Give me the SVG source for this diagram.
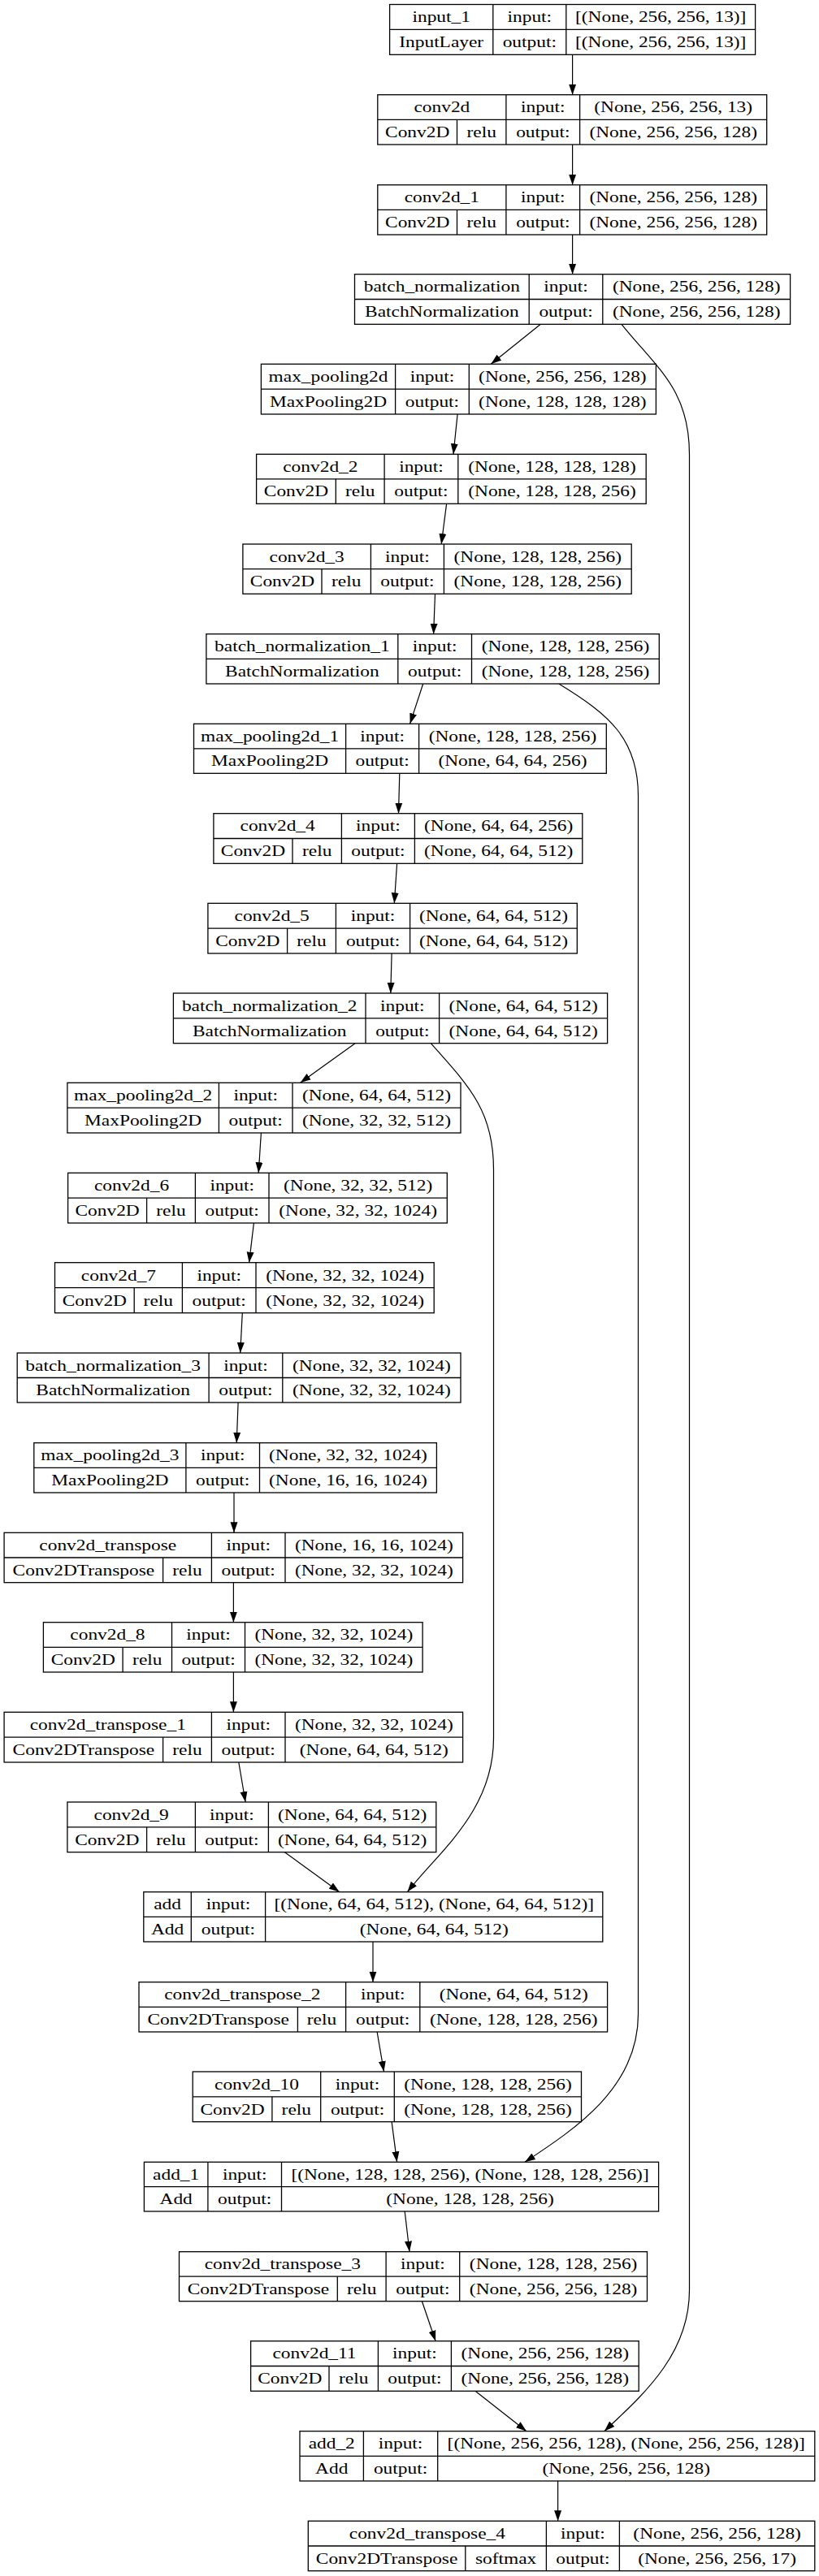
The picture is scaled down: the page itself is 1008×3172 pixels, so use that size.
<svg xmlns="http://www.w3.org/2000/svg" width="1008" height="3172" viewBox="0 0 1008 3172">
<style>
.bx{fill:#fff;stroke:#000;stroke-width:1.3}
.ln{stroke:#000;stroke-width:1.3}
.t{font-family:"Liberation Serif","Times New Roman",serif;font-size:18px;text-anchor:middle;fill:#000}
.e{fill:none;stroke:#000;stroke-width:1.2}
</style>
<defs>
<marker id="ah" markerUnits="userSpaceOnUse" markerWidth="13" markerHeight="10" refX="13" refY="5" orient="auto">
<path d="M0,0.5 L13,5 L0,9.5 z" fill="#000"/>
</marker>
</defs>
<rect width="1008" height="3172" fill="#fff"/>
<g id="connectors">
<path class="e" marker-end="url(#ah)" d="M704.6,67.3 L704.6,116.7"/>
<path class="e" marker-end="url(#ah)" d="M704.6,178 L704.6,227.7"/>
<path class="e" marker-end="url(#ah)" d="M704.6,289 L704.6,337.7"/>
<path class="e" marker-end="url(#ah)" d="M665.3,399.3 L604.3,448.3"/>
<path class="e" marker-end="url(#ah)" d="M563.1,510 L558,559.3"/>
<path class="e" marker-end="url(#ah)" d="M549.6,620.3 L543.2,670"/>
<path class="e" marker-end="url(#ah)" d="M535.5,731.3 L533.6,780.7"/>
<path class="e" marker-end="url(#ah)" d="M520.7,842 L504.6,891.3"/>
<path class="e" marker-end="url(#ah)" d="M491.8,952.3 L490.5,1001.7"/>
<path class="e" marker-end="url(#ah)" d="M488.6,1063.3 L485.3,1112.3"/>
<path class="e" marker-end="url(#ah)" d="M482.1,1174 L480.8,1223"/>
<path class="e" marker-end="url(#ah)" d="M437.1,1284.7 L369.6,1333.3"/>
<path class="e" marker-end="url(#ah)" d="M321.4,1395 L318.2,1444.3"/>
<path class="e" marker-end="url(#ah)" d="M312.4,1506 L306.6,1554.7"/>
<path class="e" marker-end="url(#ah)" d="M298.3,1616.7 L295.7,1666"/>
<path class="e" marker-end="url(#ah)" d="M293.1,1727 L291.2,1776.7"/>
<path class="e" marker-end="url(#ah)" d="M288,1838 L288,1887.3"/>
<path class="e" marker-end="url(#ah)" d="M287.4,1948.7 L287.4,1997.7"/>
<path class="e" marker-end="url(#ah)" d="M287.4,2059 L287.4,2108.3"/>
<path class="e" marker-end="url(#ah)" d="M293.8,2170 L302.1,2219"/>
<path class="e" marker-end="url(#ah)" d="M350.4,2280.7 L417.8,2329.7"/>
<path class="e" marker-end="url(#ah)" d="M459,2391 L459,2440.7"/>
<path class="e" marker-end="url(#ah)" d="M464.1,2502 L472.5,2551"/>
<path class="e" marker-end="url(#ah)" d="M482.1,2612.7 L488.6,2662.3"/>
<path class="e" marker-end="url(#ah)" d="M498.2,2723 L504,2772.7"/>
<path class="e" marker-end="url(#ah)" d="M519.4,2833.7 L536.1,2882.7"/>
<path class="e" marker-end="url(#ah)" d="M585,2944.3 L648,2993.7"/>
<path class="e" marker-end="url(#ah)" d="M686.6,3055 L686.6,3104.3"/>
<path class="e" marker-end="url(#ah)" d="M765,399.3 C810,455 848.5,480 848.5,560 L848.5,2820 C848.5,2900 790,2950 743.8,2993.7"/>
<path class="e" marker-end="url(#ah)" d="M687.8,842 C750,880 785.5,910 785.5,980 L785.5,2480 C785.5,2570 710,2620 646,2662.3"/>
<path class="e" marker-end="url(#ah)" d="M530.3,1284.7 C580,1340 607.5,1370 607.5,1440 L607.5,2140 C607.5,2230 540,2280 501.4,2329.7"/>
</g>

<g id="input_1">
<rect class="bx" x="479.6" y="5.5" width="450" height="61.8"/>
<line class="ln" x1="479.6" y1="36.4" x2="929.6" y2="36.4"/>
<line class="ln" x1="606.8" y1="5.5" x2="606.8" y2="67.3"/>
<line class="ln" x1="696.8" y1="5.5" x2="696.8" y2="67.3"/>
<text class="t" transform="translate(543.2,27.25) scale(1.3,1)">input_1</text>
<text class="t" transform="translate(543.2,58.15) scale(1.3,1)">InputLayer</text>
<text class="t" transform="translate(651.8,27.25) scale(1.3,1)">input:</text>
<text class="t" transform="translate(651.8,58.15) scale(1.3,1)">output:</text>
<text class="t" transform="translate(813.2,27.25) scale(1.3,1)">[(None, 256, 256, 13)]</text>
<text class="t" transform="translate(813.2,58.15) scale(1.3,1)">[(None, 256, 256, 13)]</text>
</g>

<g id="conv2d">
<rect class="bx" x="464.8" y="116.7" width="478.9" height="61.3"/>
<line class="ln" x1="464.8" y1="147.35" x2="943.7" y2="147.35"/>
<line class="ln" x1="622.9" y1="116.7" x2="622.9" y2="178"/>
<line class="ln" x1="713.6" y1="116.7" x2="713.6" y2="178"/>
<line class="ln" x1="562.5" y1="147.35" x2="562.5" y2="178"/>
<text class="t" transform="translate(543.85,138.3) scale(1.3,1)">conv2d</text>
<text class="t" transform="translate(513.65,169) scale(1.3,1)">Conv2D</text>
<text class="t" transform="translate(592.7,169) scale(1.3,1)">relu</text>
<text class="t" transform="translate(668.25,138.3) scale(1.3,1)">input:</text>
<text class="t" transform="translate(668.25,169) scale(1.3,1)">output:</text>
<text class="t" transform="translate(828.65,138.3) scale(1.3,1)">(None, 256, 256, 13)</text>
<text class="t" transform="translate(828.65,169) scale(1.3,1)">(None, 256, 256, 128)</text>
</g>

<g id="conv2d_1">
<rect class="bx" x="464.8" y="227.7" width="478.9" height="61.3"/>
<line class="ln" x1="464.8" y1="258.35" x2="943.7" y2="258.35"/>
<line class="ln" x1="622.9" y1="227.7" x2="622.9" y2="289"/>
<line class="ln" x1="713.6" y1="227.7" x2="713.6" y2="289"/>
<line class="ln" x1="562.5" y1="258.35" x2="562.5" y2="289"/>
<text class="t" transform="translate(543.85,249.3) scale(1.3,1)">conv2d_1</text>
<text class="t" transform="translate(513.65,280) scale(1.3,1)">Conv2D</text>
<text class="t" transform="translate(592.7,280) scale(1.3,1)">relu</text>
<text class="t" transform="translate(668.25,249.3) scale(1.3,1)">input:</text>
<text class="t" transform="translate(668.25,280) scale(1.3,1)">output:</text>
<text class="t" transform="translate(828.65,249.3) scale(1.3,1)">(None, 256, 256, 128)</text>
<text class="t" transform="translate(828.65,280) scale(1.3,1)">(None, 256, 256, 128)</text>
</g>

<g id="batch_normalization">
<rect class="bx" x="436.5" y="337.7" width="536.1" height="61.6"/>
<line class="ln" x1="436.5" y1="368.5" x2="972.6" y2="368.5"/>
<line class="ln" x1="651.2" y1="337.7" x2="651.2" y2="399.3"/>
<line class="ln" x1="741.8" y1="337.7" x2="741.8" y2="399.3"/>
<text class="t" transform="translate(543.85,359.4) scale(1.3,1)">batch_normalization</text>
<text class="t" transform="translate(543.85,390.2) scale(1.3,1)">BatchNormalization</text>
<text class="t" transform="translate(696.5,359.4) scale(1.3,1)">input:</text>
<text class="t" transform="translate(696.5,390.2) scale(1.3,1)">output:</text>
<text class="t" transform="translate(857.2,359.4) scale(1.3,1)">(None, 256, 256, 128)</text>
<text class="t" transform="translate(857.2,390.2) scale(1.3,1)">(None, 256, 256, 128)</text>
</g>

<g id="max_pooling2d">
<rect class="bx" x="321.4" y="448.3" width="486" height="61.7"/>
<line class="ln" x1="321.4" y1="479.15" x2="807.4" y2="479.15"/>
<line class="ln" x1="486.6" y1="448.3" x2="486.6" y2="510"/>
<line class="ln" x1="577.3" y1="448.3" x2="577.3" y2="510"/>
<text class="t" transform="translate(404,470) scale(1.3,1)">max_pooling2d</text>
<text class="t" transform="translate(404,500.9) scale(1.3,1)">MaxPooling2D</text>
<text class="t" transform="translate(531.95,470) scale(1.3,1)">input:</text>
<text class="t" transform="translate(531.95,500.9) scale(1.3,1)">output:</text>
<text class="t" transform="translate(692.35,470) scale(1.3,1)">(None, 256, 256, 128)</text>
<text class="t" transform="translate(692.35,500.9) scale(1.3,1)">(None, 128, 128, 128)</text>
</g>

<g id="conv2d_2">
<rect class="bx" x="315.6" y="559.3" width="479.6" height="61"/>
<line class="ln" x1="315.6" y1="589.8" x2="795.2" y2="589.8"/>
<line class="ln" x1="473.1" y1="559.3" x2="473.1" y2="620.3"/>
<line class="ln" x1="563.8" y1="559.3" x2="563.8" y2="620.3"/>
<line class="ln" x1="413.3" y1="589.8" x2="413.3" y2="620.3"/>
<text class="t" transform="translate(394.35,580.85) scale(1.3,1)">conv2d_2</text>
<text class="t" transform="translate(364.45,611.35) scale(1.3,1)">Conv2D</text>
<text class="t" transform="translate(443.2,611.35) scale(1.3,1)">relu</text>
<text class="t" transform="translate(518.45,580.85) scale(1.3,1)">input:</text>
<text class="t" transform="translate(518.45,611.35) scale(1.3,1)">output:</text>
<text class="t" transform="translate(679.5,580.85) scale(1.3,1)">(None, 128, 128, 128)</text>
<text class="t" transform="translate(679.5,611.35) scale(1.3,1)">(None, 128, 128, 256)</text>
</g>

<g id="conv2d_3">
<rect class="bx" x="298.9" y="670" width="478.3" height="61.3"/>
<line class="ln" x1="298.9" y1="700.65" x2="777.2" y2="700.65"/>
<line class="ln" x1="456.4" y1="670" x2="456.4" y2="731.3"/>
<line class="ln" x1="546.4" y1="670" x2="546.4" y2="731.3"/>
<line class="ln" x1="396" y1="700.65" x2="396" y2="731.3"/>
<text class="t" transform="translate(377.65,691.6) scale(1.3,1)">conv2d_3</text>
<text class="t" transform="translate(347.45,722.3) scale(1.3,1)">Conv2D</text>
<text class="t" transform="translate(426.2,722.3) scale(1.3,1)">relu</text>
<text class="t" transform="translate(501.4,691.6) scale(1.3,1)">input:</text>
<text class="t" transform="translate(501.4,722.3) scale(1.3,1)">output:</text>
<text class="t" transform="translate(661.8,691.6) scale(1.3,1)">(None, 128, 128, 256)</text>
<text class="t" transform="translate(661.8,722.3) scale(1.3,1)">(None, 128, 128, 256)</text>
</g>

<g id="batch_normalization_1">
<rect class="bx" x="253.9" y="780.7" width="557.4" height="61.3"/>
<line class="ln" x1="253.9" y1="811.35" x2="811.3" y2="811.35"/>
<line class="ln" x1="489.8" y1="780.7" x2="489.8" y2="842"/>
<line class="ln" x1="580.5" y1="780.7" x2="580.5" y2="842"/>
<text class="t" transform="translate(371.85,802.3) scale(1.3,1)">batch_normalization_1</text>
<text class="t" transform="translate(371.85,833) scale(1.3,1)">BatchNormalization</text>
<text class="t" transform="translate(535.15,802.3) scale(1.3,1)">input:</text>
<text class="t" transform="translate(535.15,833) scale(1.3,1)">output:</text>
<text class="t" transform="translate(695.9,802.3) scale(1.3,1)">(None, 128, 128, 256)</text>
<text class="t" transform="translate(695.9,833) scale(1.3,1)">(None, 128, 128, 256)</text>
</g>

<g id="max_pooling2d_1">
<rect class="bx" x="238.5" y="891.3" width="507.8" height="61"/>
<line class="ln" x1="238.5" y1="921.8" x2="746.3" y2="921.8"/>
<line class="ln" x1="425.6" y1="891.3" x2="425.6" y2="952.3"/>
<line class="ln" x1="515.6" y1="891.3" x2="515.6" y2="952.3"/>
<text class="t" transform="translate(332.05,912.85) scale(1.3,1)">max_pooling2d_1</text>
<text class="t" transform="translate(332.05,943.35) scale(1.3,1)">MaxPooling2D</text>
<text class="t" transform="translate(470.6,912.85) scale(1.3,1)">input:</text>
<text class="t" transform="translate(470.6,943.35) scale(1.3,1)">output:</text>
<text class="t" transform="translate(630.95,912.85) scale(1.3,1)">(None, 128, 128, 256)</text>
<text class="t" transform="translate(630.95,943.35) scale(1.3,1)">(None, 64, 64, 256)</text>
</g>

<g id="conv2d_4">
<rect class="bx" x="262.9" y="1001.7" width="453.9" height="61.6"/>
<line class="ln" x1="262.9" y1="1032.5" x2="716.8" y2="1032.5"/>
<line class="ln" x1="420.4" y1="1001.7" x2="420.4" y2="1063.3"/>
<line class="ln" x1="510.4" y1="1001.7" x2="510.4" y2="1063.3"/>
<line class="ln" x1="360" y1="1032.5" x2="360" y2="1063.3"/>
<text class="t" transform="translate(341.65,1023.4) scale(1.3,1)">conv2d_4</text>
<text class="t" transform="translate(311.45,1054.2) scale(1.3,1)">Conv2D</text>
<text class="t" transform="translate(390.2,1054.2) scale(1.3,1)">relu</text>
<text class="t" transform="translate(465.4,1023.4) scale(1.3,1)">input:</text>
<text class="t" transform="translate(465.4,1054.2) scale(1.3,1)">output:</text>
<text class="t" transform="translate(613.6,1023.4) scale(1.3,1)">(None, 64, 64, 256)</text>
<text class="t" transform="translate(613.6,1054.2) scale(1.3,1)">(None, 64, 64, 512)</text>
</g>

<g id="conv2d_5">
<rect class="bx" x="255.9" y="1112.3" width="454.4" height="61.7"/>
<line class="ln" x1="255.9" y1="1143.15" x2="710.3" y2="1143.15"/>
<line class="ln" x1="413.4" y1="1112.3" x2="413.4" y2="1174"/>
<line class="ln" x1="504.6" y1="1112.3" x2="504.6" y2="1174"/>
<line class="ln" x1="353.6" y1="1143.15" x2="353.6" y2="1174"/>
<text class="t" transform="translate(334.65,1134) scale(1.3,1)">conv2d_5</text>
<text class="t" transform="translate(304.75,1164.9) scale(1.3,1)">Conv2D</text>
<text class="t" transform="translate(383.5,1164.9) scale(1.3,1)">relu</text>
<text class="t" transform="translate(459,1134) scale(1.3,1)">input:</text>
<text class="t" transform="translate(459,1164.9) scale(1.3,1)">output:</text>
<text class="t" transform="translate(607.45,1134) scale(1.3,1)">(None, 64, 64, 512)</text>
<text class="t" transform="translate(607.45,1164.9) scale(1.3,1)">(None, 64, 64, 512)</text>
</g>

<g id="batch_normalization_2">
<rect class="bx" x="213.4" y="1223" width="534.2" height="61.7"/>
<line class="ln" x1="213.4" y1="1253.85" x2="747.6" y2="1253.85"/>
<line class="ln" x1="450" y1="1223" x2="450" y2="1284.7"/>
<line class="ln" x1="540.6" y1="1223" x2="540.6" y2="1284.7"/>
<text class="t" transform="translate(331.7,1244.7) scale(1.3,1)">batch_normalization_2</text>
<text class="t" transform="translate(331.7,1275.6) scale(1.3,1)">BatchNormalization</text>
<text class="t" transform="translate(495.3,1244.7) scale(1.3,1)">input:</text>
<text class="t" transform="translate(495.3,1275.6) scale(1.3,1)">output:</text>
<text class="t" transform="translate(644.1,1244.7) scale(1.3,1)">(None, 64, 64, 512)</text>
<text class="t" transform="translate(644.1,1275.6) scale(1.3,1)">(None, 64, 64, 512)</text>
</g>

<g id="max_pooling2d_2">
<rect class="bx" x="82.9" y="1333.3" width="484.1" height="61.7"/>
<line class="ln" x1="82.9" y1="1364.15" x2="567" y2="1364.15"/>
<line class="ln" x1="269.4" y1="1333.3" x2="269.4" y2="1395"/>
<line class="ln" x1="360" y1="1333.3" x2="360" y2="1395"/>
<text class="t" transform="translate(176.15,1355) scale(1.3,1)">max_pooling2d_2</text>
<text class="t" transform="translate(176.15,1385.9) scale(1.3,1)">MaxPooling2D</text>
<text class="t" transform="translate(314.7,1355) scale(1.3,1)">input:</text>
<text class="t" transform="translate(314.7,1385.9) scale(1.3,1)">output:</text>
<text class="t" transform="translate(463.5,1355) scale(1.3,1)">(None, 64, 64, 512)</text>
<text class="t" transform="translate(463.5,1385.9) scale(1.3,1)">(None, 32, 32, 512)</text>
</g>

<g id="conv2d_6">
<rect class="bx" x="83.6" y="1444.3" width="466.7" height="61.7"/>
<line class="ln" x1="83.6" y1="1475.15" x2="550.3" y2="1475.15"/>
<line class="ln" x1="240.4" y1="1444.3" x2="240.4" y2="1506"/>
<line class="ln" x1="331" y1="1444.3" x2="331" y2="1506"/>
<line class="ln" x1="180.6" y1="1475.15" x2="180.6" y2="1506"/>
<text class="t" transform="translate(162,1466) scale(1.3,1)">conv2d_6</text>
<text class="t" transform="translate(132.1,1496.9) scale(1.3,1)">Conv2D</text>
<text class="t" transform="translate(210.5,1496.9) scale(1.3,1)">relu</text>
<text class="t" transform="translate(285.7,1466) scale(1.3,1)">input:</text>
<text class="t" transform="translate(285.7,1496.9) scale(1.3,1)">output:</text>
<text class="t" transform="translate(440.65,1466) scale(1.3,1)">(None, 32, 32, 512)</text>
<text class="t" transform="translate(440.65,1496.9) scale(1.3,1)">(None, 32, 32, 1024)</text>
</g>

<g id="conv2d_7">
<rect class="bx" x="67.5" y="1554.7" width="466.7" height="62"/>
<line class="ln" x1="67.5" y1="1585.7" x2="534.2" y2="1585.7"/>
<line class="ln" x1="224.4" y1="1554.7" x2="224.4" y2="1616.7"/>
<line class="ln" x1="315" y1="1554.7" x2="315" y2="1616.7"/>
<line class="ln" x1="165.2" y1="1585.7" x2="165.2" y2="1616.7"/>
<text class="t" transform="translate(145.95,1576.5) scale(1.3,1)">conv2d_7</text>
<text class="t" transform="translate(116.35,1607.5) scale(1.3,1)">Conv2D</text>
<text class="t" transform="translate(194.8,1607.5) scale(1.3,1)">relu</text>
<text class="t" transform="translate(269.7,1576.5) scale(1.3,1)">input:</text>
<text class="t" transform="translate(269.7,1607.5) scale(1.3,1)">output:</text>
<text class="t" transform="translate(424.6,1576.5) scale(1.3,1)">(None, 32, 32, 1024)</text>
<text class="t" transform="translate(424.6,1607.5) scale(1.3,1)">(None, 32, 32, 1024)</text>
</g>

<g id="batch_normalization_3">
<rect class="bx" x="21.2" y="1666" width="545.8" height="61"/>
<line class="ln" x1="21.2" y1="1696.5" x2="567" y2="1696.5"/>
<line class="ln" x1="257.1" y1="1666" x2="257.1" y2="1727"/>
<line class="ln" x1="347.8" y1="1666" x2="347.8" y2="1727"/>
<text class="t" transform="translate(139.15,1687.55) scale(1.3,1)">batch_normalization_3</text>
<text class="t" transform="translate(139.15,1718.05) scale(1.3,1)">BatchNormalization</text>
<text class="t" transform="translate(302.45,1687.55) scale(1.3,1)">input:</text>
<text class="t" transform="translate(302.45,1718.05) scale(1.3,1)">output:</text>
<text class="t" transform="translate(457.4,1687.55) scale(1.3,1)">(None, 32, 32, 1024)</text>
<text class="t" transform="translate(457.4,1718.05) scale(1.3,1)">(None, 32, 32, 1024)</text>
</g>

<g id="max_pooling2d_3">
<rect class="bx" x="41.8" y="1776.7" width="495.6" height="61.3"/>
<line class="ln" x1="41.8" y1="1807.35" x2="537.4" y2="1807.35"/>
<line class="ln" x1="228.9" y1="1776.7" x2="228.9" y2="1838"/>
<line class="ln" x1="319.5" y1="1776.7" x2="319.5" y2="1838"/>
<text class="t" transform="translate(135.35,1798.3) scale(1.3,1)">max_pooling2d_3</text>
<text class="t" transform="translate(135.35,1829) scale(1.3,1)">MaxPooling2D</text>
<text class="t" transform="translate(274.2,1798.3) scale(1.3,1)">input:</text>
<text class="t" transform="translate(274.2,1829) scale(1.3,1)">output:</text>
<text class="t" transform="translate(428.45,1798.3) scale(1.3,1)">(None, 32, 32, 1024)</text>
<text class="t" transform="translate(428.45,1829) scale(1.3,1)">(None, 16, 16, 1024)</text>
</g>

<g id="conv2d_transpose">
<rect class="bx" x="5.1" y="1887.3" width="564.5" height="61.4"/>
<line class="ln" x1="5.1" y1="1918" x2="569.6" y2="1918"/>
<line class="ln" x1="260.4" y1="1887.3" x2="260.4" y2="1948.7"/>
<line class="ln" x1="351" y1="1887.3" x2="351" y2="1948.7"/>
<line class="ln" x1="200.6" y1="1918" x2="200.6" y2="1948.7"/>
<text class="t" transform="translate(132.75,1908.95) scale(1.3,1)">conv2d_transpose</text>
<text class="t" transform="translate(102.85,1939.65) scale(1.3,1)">Conv2DTranspose</text>
<text class="t" transform="translate(230.5,1939.65) scale(1.3,1)">relu</text>
<text class="t" transform="translate(305.7,1908.95) scale(1.3,1)">input:</text>
<text class="t" transform="translate(305.7,1939.65) scale(1.3,1)">output:</text>
<text class="t" transform="translate(460.3,1908.95) scale(1.3,1)">(None, 16, 16, 1024)</text>
<text class="t" transform="translate(460.3,1939.65) scale(1.3,1)">(None, 32, 32, 1024)</text>
</g>

<g id="conv2d_8">
<rect class="bx" x="53.4" y="1997.7" width="466.7" height="61.3"/>
<line class="ln" x1="53.4" y1="2028.35" x2="520.1" y2="2028.35"/>
<line class="ln" x1="211.5" y1="1997.7" x2="211.5" y2="2059"/>
<line class="ln" x1="301.5" y1="1997.7" x2="301.5" y2="2059"/>
<line class="ln" x1="151.1" y1="2028.35" x2="151.1" y2="2059"/>
<text class="t" transform="translate(132.45,2019.3) scale(1.3,1)">conv2d_8</text>
<text class="t" transform="translate(102.25,2050) scale(1.3,1)">Conv2D</text>
<text class="t" transform="translate(181.3,2050) scale(1.3,1)">relu</text>
<text class="t" transform="translate(256.5,2019.3) scale(1.3,1)">input:</text>
<text class="t" transform="translate(256.5,2050) scale(1.3,1)">output:</text>
<text class="t" transform="translate(410.8,2019.3) scale(1.3,1)">(None, 32, 32, 1024)</text>
<text class="t" transform="translate(410.8,2050) scale(1.3,1)">(None, 32, 32, 1024)</text>
</g>

<g id="conv2d_transpose_1">
<rect class="bx" x="5.1" y="2108.3" width="564.5" height="61.7"/>
<line class="ln" x1="5.1" y1="2139.15" x2="569.6" y2="2139.15"/>
<line class="ln" x1="260.4" y1="2108.3" x2="260.4" y2="2170"/>
<line class="ln" x1="351" y1="2108.3" x2="351" y2="2170"/>
<line class="ln" x1="200.6" y1="2139.15" x2="200.6" y2="2170"/>
<text class="t" transform="translate(132.75,2130) scale(1.3,1)">conv2d_transpose_1</text>
<text class="t" transform="translate(102.85,2160.9) scale(1.3,1)">Conv2DTranspose</text>
<text class="t" transform="translate(230.5,2160.9) scale(1.3,1)">relu</text>
<text class="t" transform="translate(305.7,2130) scale(1.3,1)">input:</text>
<text class="t" transform="translate(305.7,2160.9) scale(1.3,1)">output:</text>
<text class="t" transform="translate(460.3,2130) scale(1.3,1)">(None, 32, 32, 1024)</text>
<text class="t" transform="translate(460.3,2160.9) scale(1.3,1)">(None, 64, 64, 512)</text>
</g>

<g id="conv2d_9">
<rect class="bx" x="82.9" y="2219" width="453.9" height="61.7"/>
<line class="ln" x1="82.9" y1="2249.85" x2="536.8" y2="2249.85"/>
<line class="ln" x1="240.4" y1="2219" x2="240.4" y2="2280.7"/>
<line class="ln" x1="330.4" y1="2219" x2="330.4" y2="2280.7"/>
<line class="ln" x1="180.6" y1="2249.85" x2="180.6" y2="2280.7"/>
<text class="t" transform="translate(161.65,2240.7) scale(1.3,1)">conv2d_9</text>
<text class="t" transform="translate(131.75,2271.6) scale(1.3,1)">Conv2D</text>
<text class="t" transform="translate(210.5,2271.6) scale(1.3,1)">relu</text>
<text class="t" transform="translate(285.4,2240.7) scale(1.3,1)">input:</text>
<text class="t" transform="translate(285.4,2271.6) scale(1.3,1)">output:</text>
<text class="t" transform="translate(433.6,2240.7) scale(1.3,1)">(None, 64, 64, 512)</text>
<text class="t" transform="translate(433.6,2271.6) scale(1.3,1)">(None, 64, 64, 512)</text>
</g>

<g id="add">
<rect class="bx" x="176.8" y="2329.7" width="565" height="61.3"/>
<line class="ln" x1="176.8" y1="2360.35" x2="741.8" y2="2360.35"/>
<line class="ln" x1="235.3" y1="2329.7" x2="235.3" y2="2391"/>
<line class="ln" x1="326.6" y1="2329.7" x2="326.6" y2="2391"/>
<text class="t" transform="translate(206.05,2351.3) scale(1.3,1)">add</text>
<text class="t" transform="translate(206.05,2382) scale(1.3,1)">Add</text>
<text class="t" transform="translate(280.95,2351.3) scale(1.3,1)">input:</text>
<text class="t" transform="translate(280.95,2382) scale(1.3,1)">output:</text>
<text class="t" transform="translate(534.2,2351.3) scale(1.3,1)">[(None, 64, 64, 512), (None, 64, 64, 512)]</text>
<text class="t" transform="translate(534.2,2382) scale(1.3,1)">(None, 64, 64, 512)</text>
</g>

<g id="conv2d_transpose_2">
<rect class="bx" x="171" y="2440.7" width="576.6" height="61.3"/>
<line class="ln" x1="171" y1="2471.35" x2="747.6" y2="2471.35"/>
<line class="ln" x1="425.6" y1="2440.7" x2="425.6" y2="2502"/>
<line class="ln" x1="516.8" y1="2440.7" x2="516.8" y2="2502"/>
<line class="ln" x1="366.4" y1="2471.35" x2="366.4" y2="2502"/>
<text class="t" transform="translate(298.3,2462.3) scale(1.3,1)">conv2d_transpose_2</text>
<text class="t" transform="translate(268.7,2493) scale(1.3,1)">Conv2DTranspose</text>
<text class="t" transform="translate(396,2493) scale(1.3,1)">relu</text>
<text class="t" transform="translate(471.2,2462.3) scale(1.3,1)">input:</text>
<text class="t" transform="translate(471.2,2493) scale(1.3,1)">output:</text>
<text class="t" transform="translate(632.2,2462.3) scale(1.3,1)">(None, 64, 64, 512)</text>
<text class="t" transform="translate(632.2,2493) scale(1.3,1)">(None, 128, 128, 256)</text>
</g>

<g id="conv2d_10">
<rect class="bx" x="237.2" y="2551" width="478.3" height="61.7"/>
<line class="ln" x1="237.2" y1="2581.85" x2="715.5" y2="2581.85"/>
<line class="ln" x1="394.7" y1="2551" x2="394.7" y2="2612.7"/>
<line class="ln" x1="485.3" y1="2551" x2="485.3" y2="2612.7"/>
<line class="ln" x1="334.9" y1="2581.85" x2="334.9" y2="2612.7"/>
<text class="t" transform="translate(315.95,2572.7) scale(1.3,1)">conv2d_10</text>
<text class="t" transform="translate(286.05,2603.6) scale(1.3,1)">Conv2D</text>
<text class="t" transform="translate(364.8,2603.6) scale(1.3,1)">relu</text>
<text class="t" transform="translate(440,2572.7) scale(1.3,1)">input:</text>
<text class="t" transform="translate(440,2603.6) scale(1.3,1)">output:</text>
<text class="t" transform="translate(600.4,2572.7) scale(1.3,1)">(None, 128, 128, 256)</text>
<text class="t" transform="translate(600.4,2603.6) scale(1.3,1)">(None, 128, 128, 256)</text>
</g>

<g id="add_1">
<rect class="bx" x="177.4" y="2662.3" width="633.2" height="60.7"/>
<line class="ln" x1="177.4" y1="2692.65" x2="810.6" y2="2692.65"/>
<line class="ln" x1="255.9" y1="2662.3" x2="255.9" y2="2723"/>
<line class="ln" x1="346.5" y1="2662.3" x2="346.5" y2="2723"/>
<text class="t" transform="translate(216.65,2683.8) scale(1.3,1)">add_1</text>
<text class="t" transform="translate(216.65,2714.1) scale(1.3,1)">Add</text>
<text class="t" transform="translate(301.2,2683.8) scale(1.3,1)">input:</text>
<text class="t" transform="translate(301.2,2714.1) scale(1.3,1)">output:</text>
<text class="t" transform="translate(578.55,2683.8) scale(1.3,1)">[(None, 128, 128, 256), (None, 128, 128, 256)]</text>
<text class="t" transform="translate(578.55,2714.1) scale(1.3,1)">(None, 128, 128, 256)</text>
</g>

<g id="conv2d_transpose_3">
<rect class="bx" x="220.5" y="2772.7" width="576" height="61"/>
<line class="ln" x1="220.5" y1="2803.2" x2="796.5" y2="2803.2"/>
<line class="ln" x1="475.1" y1="2772.7" x2="475.1" y2="2833.7"/>
<line class="ln" x1="565.7" y1="2772.7" x2="565.7" y2="2833.7"/>
<line class="ln" x1="415.3" y1="2803.2" x2="415.3" y2="2833.7"/>
<text class="t" transform="translate(347.8,2794.25) scale(1.3,1)">conv2d_transpose_3</text>
<text class="t" transform="translate(317.9,2824.75) scale(1.3,1)">Conv2DTranspose</text>
<text class="t" transform="translate(445.2,2824.75) scale(1.3,1)">relu</text>
<text class="t" transform="translate(520.4,2794.25) scale(1.3,1)">input:</text>
<text class="t" transform="translate(520.4,2824.75) scale(1.3,1)">output:</text>
<text class="t" transform="translate(681.1,2794.25) scale(1.3,1)">(None, 128, 128, 256)</text>
<text class="t" transform="translate(681.1,2824.75) scale(1.3,1)">(None, 256, 256, 128)</text>
</g>

<g id="conv2d_11">
<rect class="bx" x="308.6" y="2882.7" width="477.6" height="61.6"/>
<line class="ln" x1="308.6" y1="2913.5" x2="786.2" y2="2913.5"/>
<line class="ln" x1="465.4" y1="2882.7" x2="465.4" y2="2944.3"/>
<line class="ln" x1="555.4" y1="2882.7" x2="555.4" y2="2944.3"/>
<line class="ln" x1="405" y1="2913.5" x2="405" y2="2944.3"/>
<text class="t" transform="translate(387,2904.4) scale(1.3,1)">conv2d_11</text>
<text class="t" transform="translate(356.8,2935.2) scale(1.3,1)">Conv2D</text>
<text class="t" transform="translate(435.2,2935.2) scale(1.3,1)">relu</text>
<text class="t" transform="translate(510.4,2904.4) scale(1.3,1)">input:</text>
<text class="t" transform="translate(510.4,2935.2) scale(1.3,1)">output:</text>
<text class="t" transform="translate(670.8,2904.4) scale(1.3,1)">(None, 256, 256, 128)</text>
<text class="t" transform="translate(670.8,2935.2) scale(1.3,1)">(None, 256, 256, 128)</text>
</g>

<g id="add_2">
<rect class="bx" x="369" y="2993.7" width="633.8" height="61.3"/>
<line class="ln" x1="369" y1="3024.35" x2="1002.8" y2="3024.35"/>
<line class="ln" x1="447.4" y1="2993.7" x2="447.4" y2="3055"/>
<line class="ln" x1="538.7" y1="2993.7" x2="538.7" y2="3055"/>
<text class="t" transform="translate(408.2,3015.3) scale(1.3,1)">add_2</text>
<text class="t" transform="translate(408.2,3046) scale(1.3,1)">Add</text>
<text class="t" transform="translate(493.05,3015.3) scale(1.3,1)">input:</text>
<text class="t" transform="translate(493.05,3046) scale(1.3,1)">output:</text>
<text class="t" transform="translate(770.75,3015.3) scale(1.3,1)">[(None, 256, 256, 128), (None, 256, 256, 128)]</text>
<text class="t" transform="translate(770.75,3046) scale(1.3,1)">(None, 256, 256, 128)</text>
</g>

<g id="conv2d_transpose_4">
<rect class="bx" x="379.3" y="3104.3" width="623.5" height="61.4"/>
<line class="ln" x1="379.3" y1="3135" x2="1002.8" y2="3135"/>
<line class="ln" x1="672.4" y1="3104.3" x2="672.4" y2="3165.7"/>
<line class="ln" x1="762.4" y1="3104.3" x2="762.4" y2="3165.7"/>
<line class="ln" x1="572.8" y1="3135" x2="572.8" y2="3165.7"/>
<text class="t" transform="translate(525.85,3125.95) scale(1.3,1)">conv2d_transpose_4</text>
<text class="t" transform="translate(476.05,3156.65) scale(1.3,1)">Conv2DTranspose</text>
<text class="t" transform="translate(622.6,3156.65) scale(1.3,1)">softmax</text>
<text class="t" transform="translate(717.4,3125.95) scale(1.3,1)">input:</text>
<text class="t" transform="translate(717.4,3156.65) scale(1.3,1)">output:</text>
<text class="t" transform="translate(882.6,3125.95) scale(1.3,1)">(None, 256, 256, 128)</text>
<text class="t" transform="translate(882.6,3156.65) scale(1.3,1)">(None, 256, 256, 17)</text>
</g>
</svg>
